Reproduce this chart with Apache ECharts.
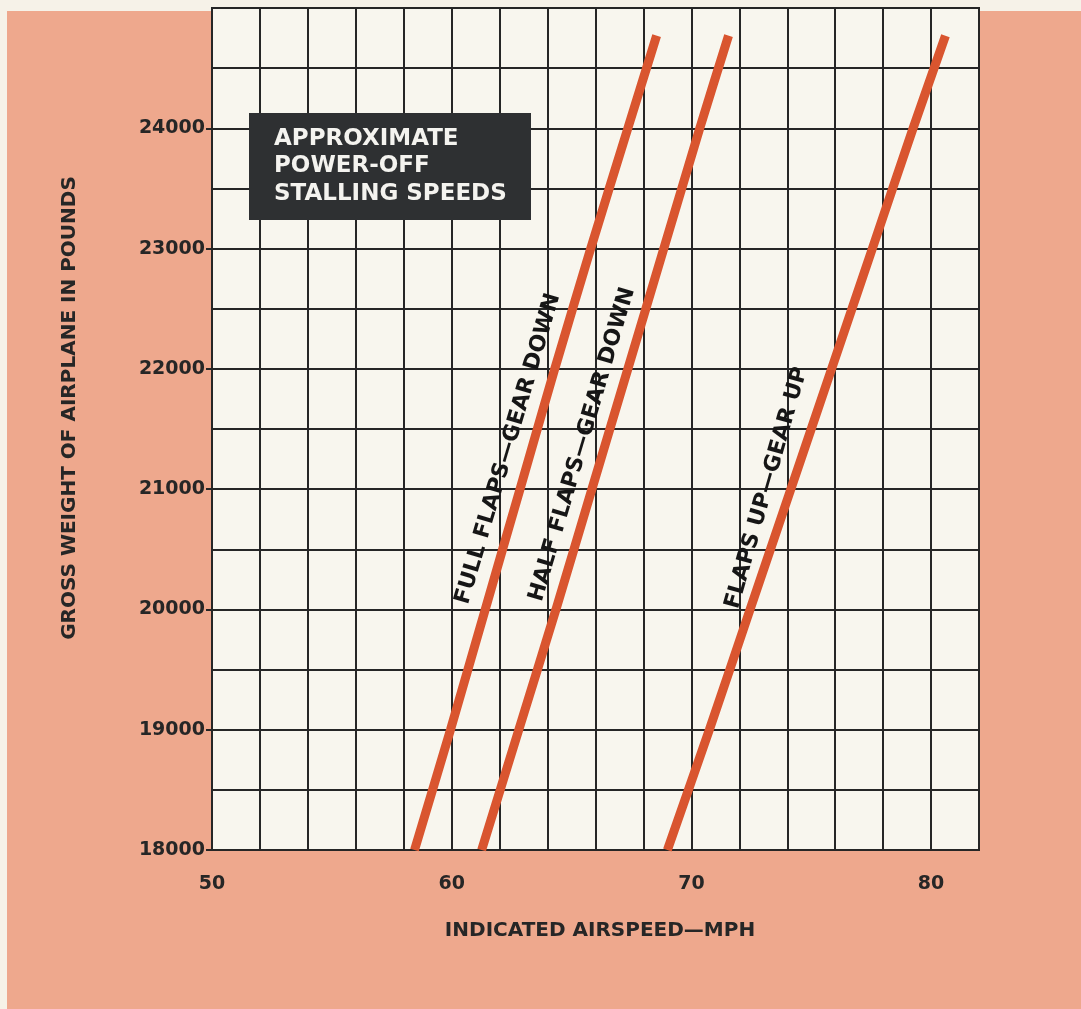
<!DOCTYPE html>
<html>
<head>
<meta charset="utf-8">
<script src="https://cdn.jsdelivr.net/npm/echarts@6/dist/echarts.min.js"></script>
<style>
html,body{margin:0;padding:0;background:#eea88d;}
#chart{width:1081px;height:1009px;}
</style>
</head>
<body>
<div id="chart"></div>
<script>
// Gross weight (lb) at which each curve was read
const weights = [18000,19000,20000,21000,22000,23000,24000,24770];
// Indicated stalling airspeed (mph)
const fullFlapsGearDown = [58.45,59.95,61.4,62.85,64.3,65.8,67.35,68.55];
const halfFlapsGearDown = [61.25,62.8,64.35,65.85,67.35,68.85,70.35,71.55];
const flapsUpGearUp     = [69.0,70.75,72.45,74.15,75.85,77.55,79.25,80.6];

const seriesNames = ['FULL FLAPS—GEAR DOWN','HALF FLAPS—GEAR DOWN','FLAPS UP—GEAR UP'];
const labelSpeed  = [62.36, 65.45, 73.15];
const labelWeight = [21336, 21372, 21010];
const labelAngle  = [73.5, 73.5, 74];

const xTickLabels = [50,60,70,80];
const yTickLabels = [18000,19000,20000,21000,22000,23000,24000];

const titleLines = ['APPROXIMATE','POWER-OFF','STALLING SPEEDS'];
const xName = 'INDICATED AIRSPEED—MPH';
const yName = 'GROSS WEIGHT OF AIRPLANE IN POUNDS';

const FONT = '"DejaVu Sans", sans-serif';
const INK = '#262626';
const RED = '#d9552f';

function pairs(speeds){ return speeds.map((s,i)=>[s, weights[i]]); }

const chart = echarts.init(document.getElementById('chart'), null, {renderer:'canvas'});
const lineSeries = [fullFlapsGearDown, halfFlapsGearDown, flapsUpGearUp].map((arr,i)=>({
  name: seriesNames[i],
  type: 'line',
  data: pairs(arr),
  smooth: 0.25,
  showSymbol: false,
  symbol: 'none',
  lineStyle: {color: RED, width: 9, cap: 'butt'},
  z: 3,
  silent: true
}));

const option = {
  backgroundColor: '#eea88d',
  animation: false,
  grid: {left: 212, top: 8, right: 102, bottom: 159, show: true,
         backgroundColor: '#f8f6ee', borderColor: INK, borderWidth: 2},
  xAxis: {
    type: 'value', min: 50, max: 82, interval: 2,
    axisLine: {show: true, lineStyle: {color: INK, width: 2}},
    axisTick: {show: false},
    splitLine: {show: true, lineStyle: {color: INK, width: 2}},
    axisLabel: {
      customValues: xTickLabels, formatter: v => String(v),
      margin: 25, color: INK, fontFamily: FONT, fontWeight: 'bold', fontSize: 19
    }
  },
  yAxis: [{
    type: 'value', min: 18000, max: 25000, interval: 500,
    axisLine: {show: true, lineStyle: {color: INK, width: 2}},
    axisTick: {show: false},
    splitLine: {show: true, lineStyle: {color: INK, width: 2}},
    axisLabel: {show: false}
  },{
    type: 'value', min: 18000, max: 25000, interval: 1000, position: 'left', offset: 0,
    axisLine: {show: false},
    axisTick: {show: true, customValues: yTickLabels, length: 6, lineStyle: {color: INK, width: 2}},
    splitLine: {show: false},
    axisLabel: {
      customValues: yTickLabels, formatter: v => String(v),
      margin: 7, color: INK, fontFamily: FONT, fontWeight: 'bold', fontSize: 19
    }
  }],
  series: lineSeries.concat([{
    type: 'scatter',
    symbolSize: 0,
    silent: true,
    z: 4,
    itemStyle: {opacity: 1},
    emphasis: {disabled: true},
    data: seriesNames.map((n,i)=>({
      name: n,
      value: [labelSpeed[i], labelWeight[i]],
      label: {rotate: labelAngle[i]}
    })),
    label: {
      show: true, position: 'inside', formatter: p => p.name, opacity: 1,
      color: '#161616', fontFamily: FONT, fontWeight: 'bold', fontSize: 22
    }
  }]),
  graphic: [
    {type: 'rect', z: -5, silent: true, shape: {x: 0, y: 0, width: 1081, height: 11}, style: {fill: '#f6f2e8'}},
    {type: 'rect', z: -5, silent: true, shape: {x: 0, y: 0, width: 7, height: 1009}, style: {fill: '#f6f2e8'}},
    {type: 'rect', z: 10, silent: true, shape: {x: 249, y: 113, width: 282, height: 107}, style: {fill: '#2e3032'}},
    {type: 'text', z: 11, silent: true, x: 274, y: 166.5,
     style: {text: titleLines.join('\n'), fill: '#f4f3ef', font: 'bold 23px ' + FONT,
             lineHeight: 27.5, verticalAlign: 'middle', align: 'left'}},
    {type: 'text', z: 11, silent: true, x: 600, y: 931,
     style: {text: xName, fill: INK, font: 'bold 20px ' + FONT, align: 'center', verticalAlign: 'middle'}},
    {type: 'text', z: 11, silent: true, x: 70, y: 408, rotation: Math.PI/2,
     style: {text: yName, fill: INK, font: 'bold 20px ' + FONT, align: 'center', verticalAlign: 'middle'}}
  ]
};
chart.setOption(option);
</script>
</body>
</html>
